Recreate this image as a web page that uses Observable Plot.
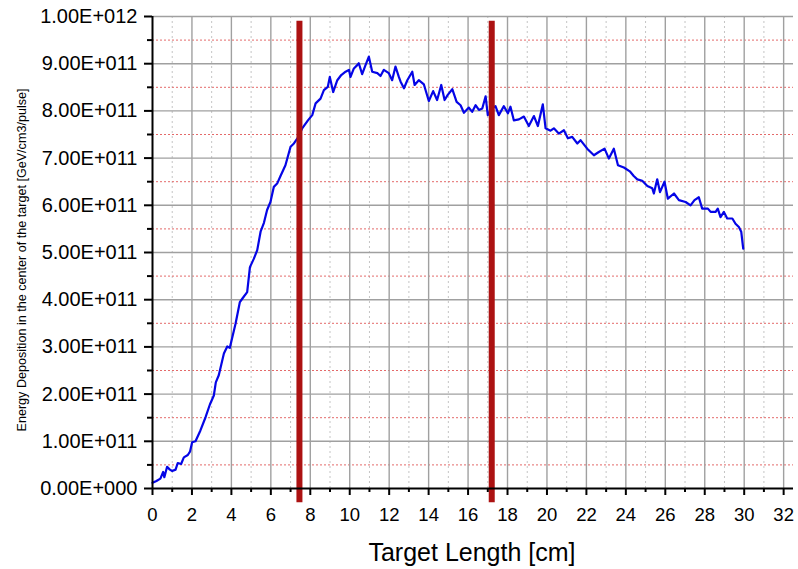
<!DOCTYPE html>
<html>
<head>
<meta charset="utf-8">
<script src="https://cdn.jsdelivr.net/npm/d3@7"></script>
<script src="https://cdn.jsdelivr.net/npm/@observablehq/plot@0.6"></script>
<style>
  html, body { margin: 0; padding: 0; background: #fff; }
  #chart { width: 798px; height: 569px; }
</style>
</head>
<body>
<div id="chart"></div>
<script>
// Target length [cm]
const lengthCm = [
  0, 0.2, 0.4, 0.54, 0.6, 0.74, 0.88, 1.0, 1.17, 1.28, 1.45, 1.59, 1.79, 1.9, 2.01, 2.18, 2.43, 2.69, 2.91, 3.11,
  3.21, 3.36, 3.62, 3.79, 3.92, 4.21, 4.43, 4.55, 4.8, 4.94, 5.14, 5.31, 5.48, 5.65, 5.81, 5.98, 6.15, 6.32, 6.49, 6.74,
  7.0, 7.17, 7.4, 7.59, 7.88, 8.1, 8.27, 8.52, 8.69, 8.89, 8.99, 9.16, 9.37, 9.57, 9.79, 9.96, 10.04, 10.21, 10.38, 10.46,
  10.63, 10.8, 10.97, 11.14, 11.4, 11.56, 11.73, 11.98, 12.15, 12.32, 12.49, 12.58, 12.75, 12.92, 13.17, 13.29, 13.5, 13.76, 14.01, 14.23,
  14.43, 14.64, 14.81, 14.97, 15.2, 15.42, 15.62, 15.79, 16.04, 16.21, 16.38, 16.55, 16.72, 16.89, 17.0, 17.2, 17.39, 17.56, 17.81, 18.02,
  18.15, 18.32, 18.58, 18.83, 19.08, 19.34, 19.54, 19.79, 19.93, 20.18, 20.35, 20.6, 20.86, 21.06, 21.28, 21.54, 21.7, 22.04, 22.38, 22.63,
  22.92, 23.14, 23.39, 23.6, 23.9, 24.2, 24.4, 24.58, 24.83, 25.09, 25.34, 25.42, 25.59, 25.73, 25.96, 26.13, 26.44, 26.69, 27.03, 27.28,
  27.48, 27.7, 27.87, 28.16, 28.3, 28.55, 28.66, 28.8, 28.97, 29.14, 29.4, 29.56, 29.73, 29.85, 29.95
];
// Energy deposition, in units of 1E+011 GeV/cm3/pulse
const energyE11 = [
  0.12, 0.16, 0.21, 0.35, 0.24, 0.46, 0.40, 0.37, 0.40, 0.54, 0.52, 0.66, 0.71, 0.78, 0.98, 1.0, 1.23, 1.51, 1.78, 1.97,
  2.25, 2.40, 2.86, 3.01, 2.98, 3.49, 3.95, 4.02, 4.16, 4.69, 4.87, 5.05, 5.44, 5.63, 5.90, 6.07, 6.39, 6.46, 6.62, 6.85,
  7.24, 7.31, 7.45, 7.63, 7.80, 7.91, 8.16, 8.26, 8.44, 8.51, 8.72, 8.40, 8.65, 8.76, 8.83, 8.87, 8.72, 8.90, 8.97, 9.01,
  8.78, 8.97, 9.15, 8.83, 8.80, 8.74, 8.87, 8.80, 8.65, 8.94, 8.72, 8.62, 8.48, 8.65, 8.83, 8.55, 8.65, 8.56, 8.21, 8.42,
  8.23, 8.55, 8.23, 8.34, 8.46, 8.19, 8.12, 7.96, 8.07, 7.98, 8.12, 8.02, 8.05, 8.31, 7.91, 8.05, 8.10, 7.91, 8.10, 7.95,
  8.09, 7.80, 7.82, 7.88, 7.68, 7.89, 7.68, 8.14, 7.63, 7.58, 7.63, 7.52, 7.59, 7.42, 7.45, 7.31, 7.38, 7.20, 7.06, 7.13,
  7.20, 6.99, 7.20, 6.85, 6.80, 6.72, 6.62, 6.55, 6.52, 6.41, 6.36, 6.25, 6.55, 6.28, 6.50, 6.14, 6.25, 6.11, 6.07, 6.00,
  6.11, 6.17, 5.93, 5.93, 5.86, 5.86, 5.93, 5.75, 5.86, 5.72, 5.72, 5.61, 5.54, 5.44, 5.08
];
// Vertical red marker lines [cm] and their vertical extent (1E+011 units)
const markerX = [7.45, 17.2];
const markerBottomE11 = -0.3;
const markerTopE11 = 9.9;

// Ticks
const xMajorTicks = [0, 2, 4, 6, 8, 10, 12, 14, 16, 18, 20, 22, 24, 26, 28, 30, 32];
const xMinorTicks = [1, 3, 5, 7, 9, 11, 13, 15, 17, 19, 21, 23, 25, 27, 29, 31];
const yMajorTicksE11 = [0, 1, 2, 3, 4, 5, 6, 7, 8, 9, 10];
const yMinorTicksE11 = [0.5, 1.5, 2.5, 3.5, 4.5, 5.5, 6.5, 7.5, 8.5, 9.5];
const yTickLabels = ["0.00E+000", "1.00E+011", "2.00E+011", "3.00E+011", "4.00E+011", "5.00E+011",
  "6.00E+011", "7.00E+011", "8.00E+011", "9.00E+011", "1.00E+012"];

const xTitle = "Target Length [cm]";
const yTitle = "Energy Deposition in the center of the target [GeV/cm3/pulse]";

const E = 1e11;
const data = lengthCm.map((x, i) => ({x, y: energyE11[i] * E}));
const yMajor = yMajorTicksE11.map(v => v * E);
const yMinor = yMinorTicksE11.map(v => v * E);
const markers = markerX.map(x => ({x, y1: markerBottomE11 * E, y2: markerTopE11 * E}));

const font = "'Liberation Sans', Arial, Helvetica, sans-serif";

const chart = Plot.plot({
  width: 798,
  height: 569,
  marginLeft: 152,
  marginRight: 5,
  marginTop: 16,
  marginBottom: 81,
  style: {fontFamily: font, background: "#fff", overflow: "visible"},
  x: {domain: [0, 32.5], axis: null},
  y: {domain: [0, 1e12], axis: null},
  marks: [
    Plot.gridX(xMinorTicks, {stroke: "#c4c4c4", strokeOpacity: 1, strokeDasharray: "2,3", strokeWidth: 1}),
    Plot.gridY(yMinor, {stroke: "#e46a6a", strokeOpacity: 1, strokeDasharray: "2,2", strokeWidth: 1}),
    Plot.gridX(xMajorTicks.filter(d => d > 0), {stroke: "#a0a0a0", strokeOpacity: 1, strokeWidth: 1.4}),
    Plot.gridY(yMajor.filter(d => d > 0), {stroke: "#a0a0a0", strokeOpacity: 1, strokeWidth: 1.4}),
    Plot.line(data, {x: "x", y: "y", stroke: "#0505e6", strokeWidth: 2.2}),
    Plot.ruleX(markers, {x: "x", y1: "y1", y2: "y2", stroke: "#ac1212", strokeWidth: 6}),
    Plot.ruleX([0], {stroke: "#000", strokeWidth: 2}),
    Plot.ruleY([0], {stroke: "#000", strokeWidth: 2}),
    Plot.axisX(xMajorTicks, {anchor: "bottom", tickSize: 7, tickPadding: 12, fontSize: 18.5, strokeWidth: 2,
      stroke: "#000", fill: "#000", tickFormat: d => String(d), label: null}),
    Plot.axisX(xMinorTicks, {anchor: "bottom", tickSize: 4, strokeWidth: 2, stroke: "#000",
      tickFormat: () => "", label: null}),
    Plot.axisY(yMajor, {anchor: "left", tickSize: 8, tickPadding: 7, fontSize: 20, strokeWidth: 2,
      stroke: "#000", fill: "#000", tickFormat: d => yTickLabels[yMajor.indexOf(d)], label: null}),
    Plot.axisY(yMinor, {anchor: "left", tickSize: 5, strokeWidth: 2, stroke: "#000",
      tickFormat: () => "", label: null})
  ]
});

const svg = d3.select(chart);
svg.append("text")
  .attr("x", 472).attr("y", 561)
  .attr("text-anchor", "middle")
  .attr("font-family", font)
  .attr("font-size", 25)
  .attr("fill", "#000")
  .text(xTitle);
svg.append("text")
  .attr("transform", "translate(26,260) rotate(-90)")
  .attr("text-anchor", "middle")
  .attr("font-family", font)
  .attr("font-size", 12.6)
  .attr("fill", "#000")
  .text(yTitle);

document.getElementById("chart").appendChild(chart);
</script>
</body>
</html>
